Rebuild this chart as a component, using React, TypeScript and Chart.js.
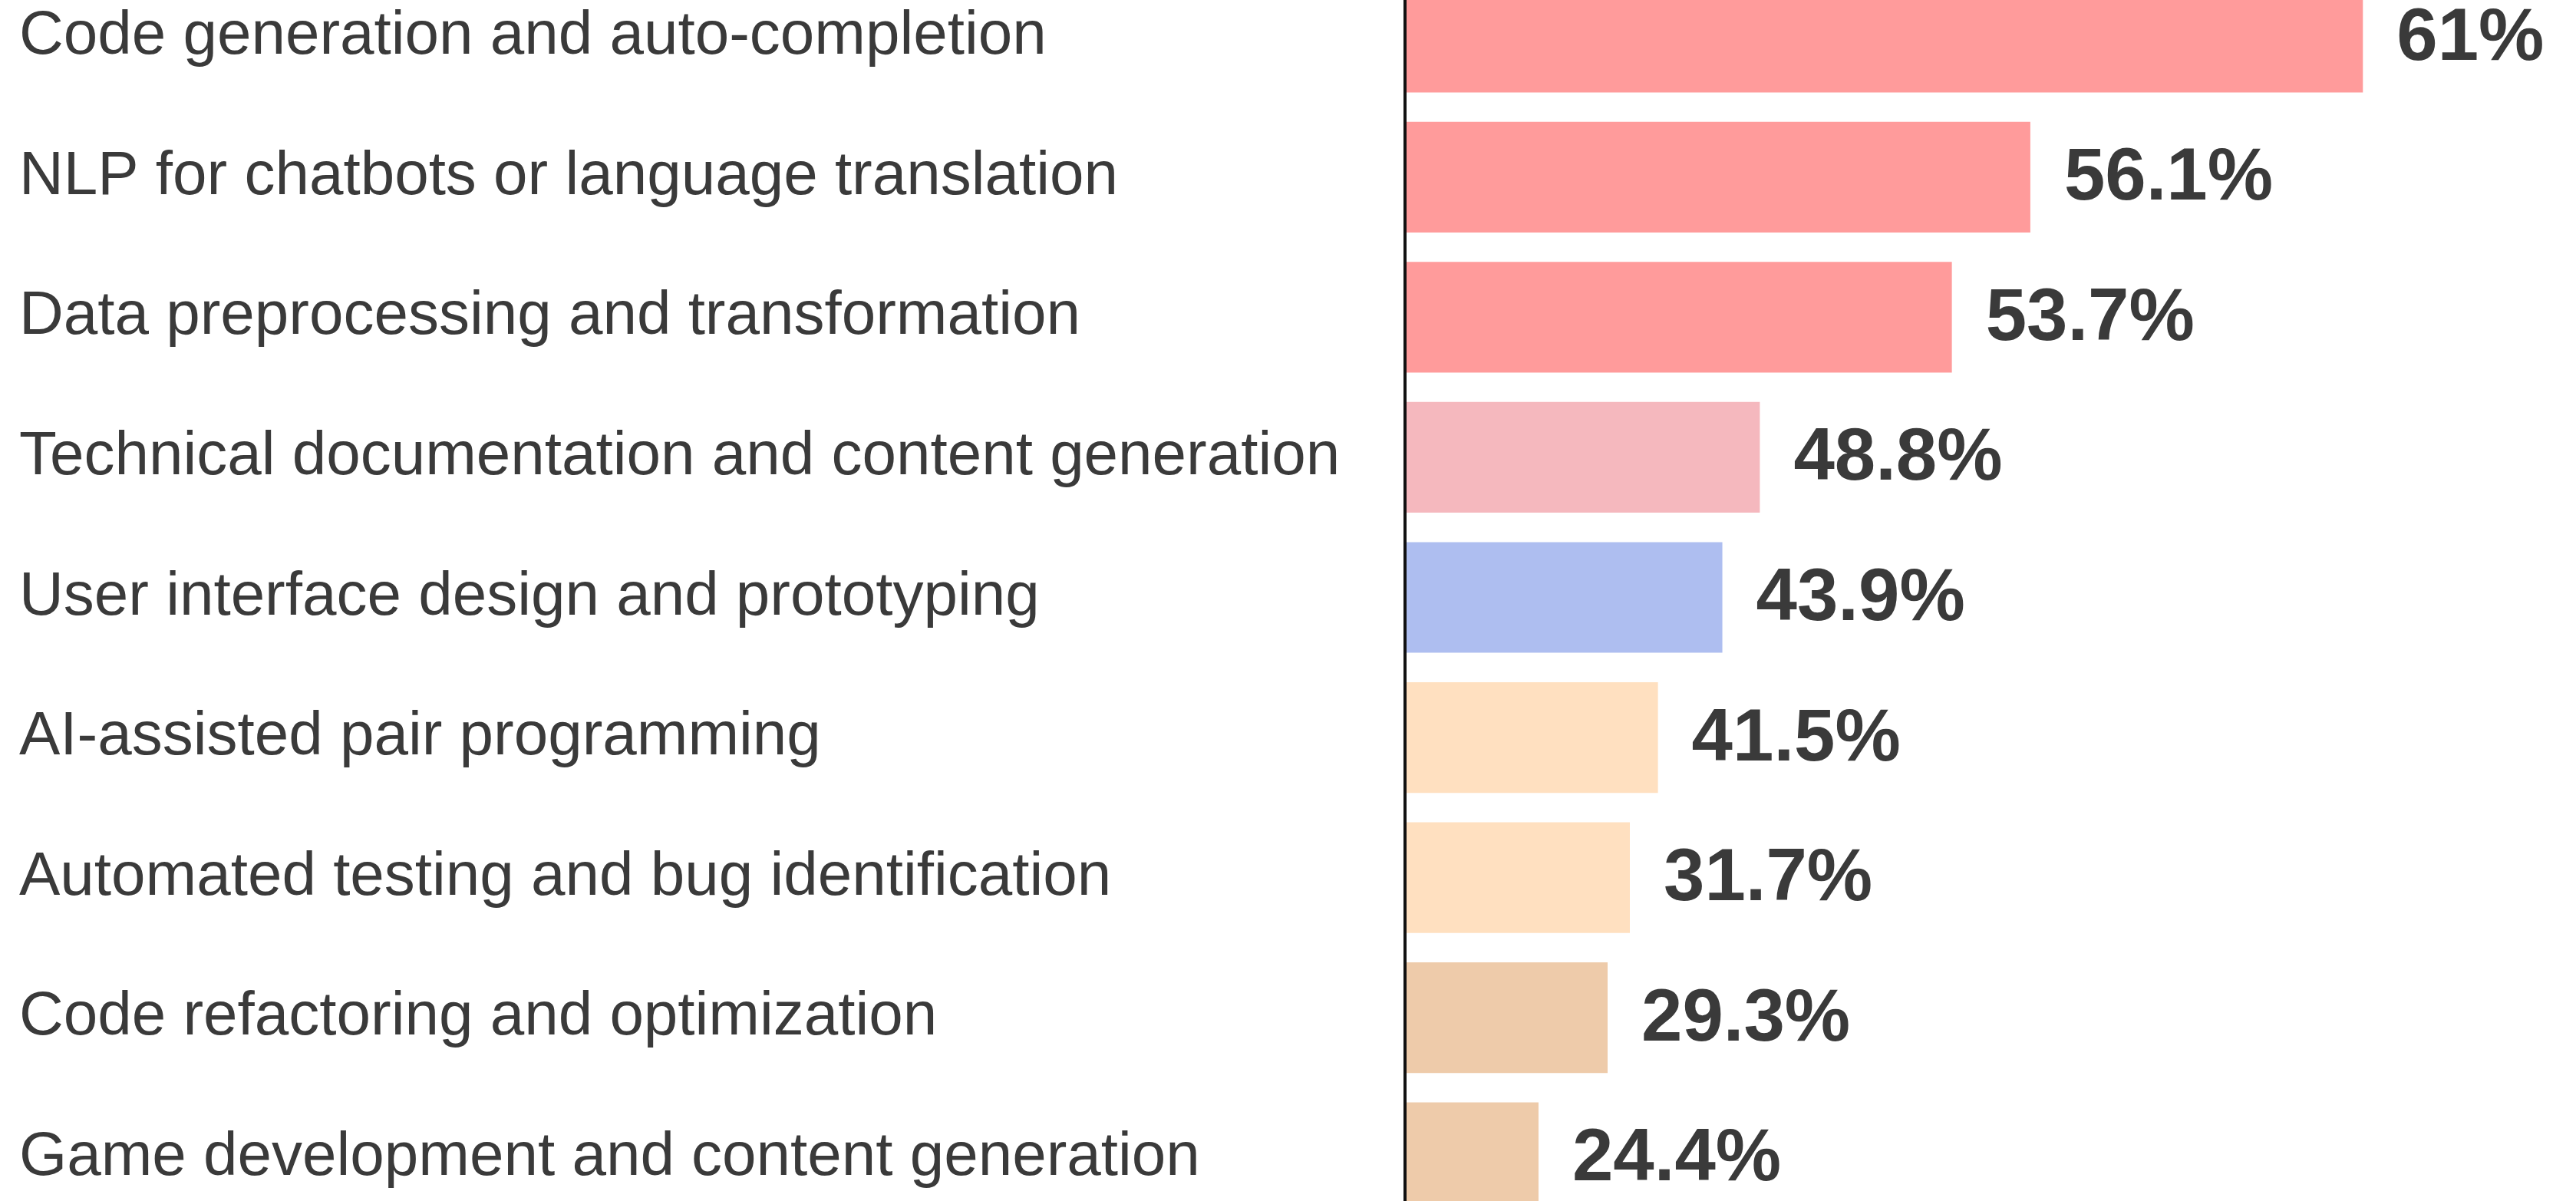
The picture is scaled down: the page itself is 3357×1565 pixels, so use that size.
import React, { useEffect, useRef } from "react";
import { Chart, registerables } from "chart.js";

Chart.register(...registerables);

// Categories (top to bottom)
const categories = [
  "Code generation and auto-completion",
  "NLP for chatbots or language translation",
  "Data preprocessing and transformation",
  "Technical documentation and content generation",
  "User interface design and prototyping",
  "AI-assisted pair programming",
  "Automated testing and bug identification",
  "Code refactoring and optimization",
  "Game development and content generation",
];

// Printed value labels
const valueLabels = ["61%", "56.1%", "53.7%", "48.8%", "43.9%", "41.5%", "31.7%", "29.3%", "24.4%"];

// Bar lengths as drawn in the picture (not proportional to the printed labels),
// read on a 0–100 scale spanning the plot width
const barLengths = [81.8, 53.4, 46.7, 30.3, 27.1, 21.6, 19.2, 17.3, 11.4];

// Bar colours
const barColors = [
  "#FF9B9B",
  "#FF9B9B",
  "#FF9B9B",
  "#F5B8BE",
  "#AEBEF0",
  "#FFE0C0",
  "#FFE0C0",
  "#EECBAA",
  "#EECBAA",
];

const FONT = "'Liberation Sans', Arial, Helvetica, sans-serif";

const valueLabelPlugin = {
  id: "valueLabels",
  afterDatasetsDraw(chart: any) {
    const ctx = chart.ctx;
    const meta = chart.getDatasetMeta(0);
    ctx.save();
    ctx.font = `bold 96px ${FONT}`;
    ctx.fillStyle = "#3a3a3a";
    ctx.textAlign = "left";
    ctx.textBaseline = "middle";
    meta.data.forEach((bar: any, i: number) => {
      ctx.fillText(valueLabels[i], bar.x + 44, bar.y + 3);
    });
    ctx.restore();
  },
};

export default function App() {
  const canvasRef = useRef<HTMLCanvasElement | null>(null);

  useEffect(() => {
    if (!canvasRef.current) return;
    const chart = new Chart(canvasRef.current, {
      type: "bar",
      data: {
        labels: categories,
        datasets: [
          {
            data: barLengths,
            backgroundColor: barColors,
            borderWidth: 0,
            categoryPercentage: 1,
            barPercentage: 0.79,
          },
        ],
      },
      options: {
        indexAxis: "y",
        animation: false,
        responsive: false,
        devicePixelRatio: 1,
        layout: { padding: { left: 25, right: 0, top: 57, bottom: 60 } },
        plugins: {
          legend: { display: false },
          tooltip: { enabled: false },
        },
        scales: {
          x: {
            display: false,
            min: 0,
            max: 100,
          },
          y: {
            grid: { display: false, drawTicks: false },
            border: { display: true, color: "#111111", width: 4, z: 1 },
            ticks: {
              crossAlign: "far",
              autoSkip: false,
              color: "#3a3a3a",
              font: { family: FONT, size: 80, weight: "normal" },
            },
            afterFit(scale: any) {
              scale.width = 1806;
            },
          },
        },
      },
      plugins: [valueLabelPlugin],
    });
    return () => chart.destroy();
  }, []);

  return (
    <div
      style={{
        position: "fixed",
        top: 0,
        left: 0,
        width: "3357px",
        height: "1565px",
        overflow: "hidden",
        background: "#ffffff",
      }}
    >
      <canvas
        ref={canvasRef}
        width={3357}
        height={1760}
        style={{ position: "absolute", left: 0, top: -100, width: "3357px", height: "1760px" }}
      />
    </div>
  );
}
